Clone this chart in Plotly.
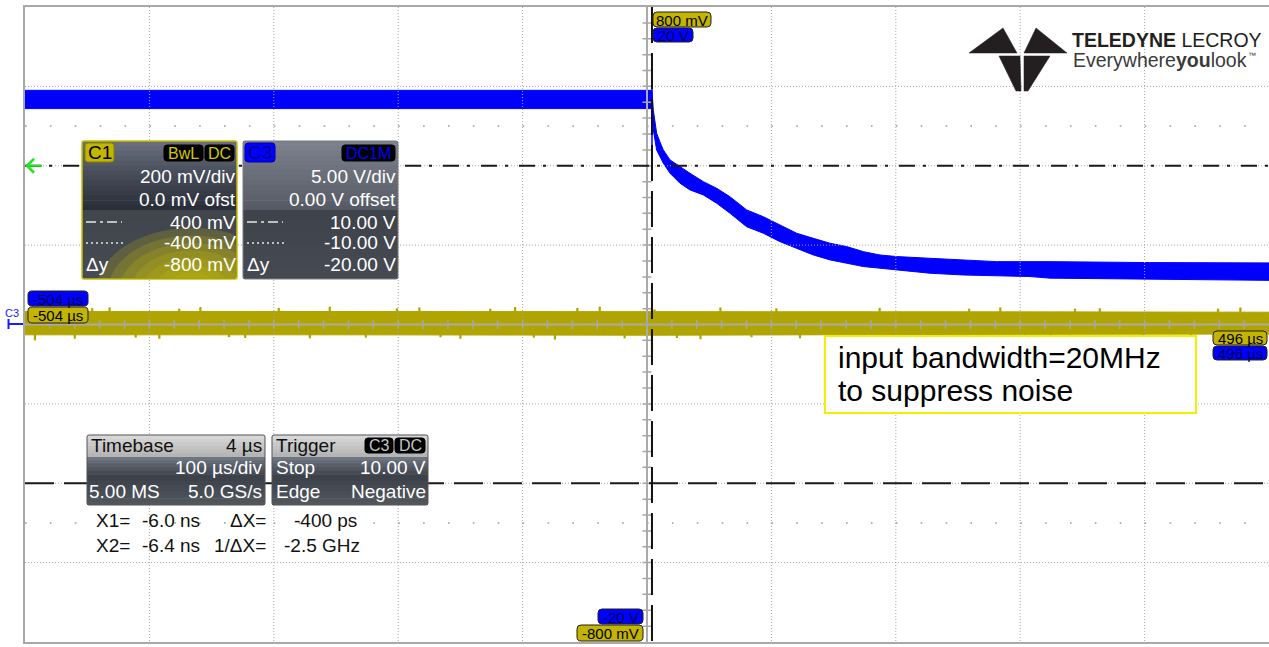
import math
import plotly.graph_objects as go

# C3 (blue, 5 V/div): envelope of the noisy trace. time in µs, volts
c3_time_us = [-504, -250, 0, 1.1, 3.75, 6.4, 9.1, 14.5, 22.5, 30.5, 41.3, 52.0, 62.7,
              76.1, 89.5, 102.9, 116.3, 129.7, 143.1, 156.5, 169.9, 183.3, 196.7,
              223.5, 250.3, 277.1, 303.9, 320.0, 400.0, 496.0]
c3_upper_v = [14.75, 14.75, 14.75, 13.5, 12.05, 11.5, 11.0, 10.37, 9.94, 9.53, 9.0, 8.58, 8.05,
              7.22, 6.79, 6.27, 5.75, 5.43, 5.12, 4.91, 4.59, 4.38, 4.28,
              4.17, 4.07, 3.96, 3.96, 3.96, 3.9, 3.88]
c3_lower_v = [13.6, 13.6, 13.6, 12.25, 10.99, 10.57, 10.16, 9.53, 8.90, 8.48, 8.16, 7.64, 7.01,
              6.16, 5.75, 5.22, 4.80, 4.38, 4.07, 3.86, 3.65, 3.55, 3.44,
              3.23, 3.12, 3.06, 3.02, 2.92, 2.85, 2.78]
c3_edge_time_us = [0, 0]
c3_edge_v = [15.6, 10.4]

# C1 (yellow, 200 mV/div): envelope body + visible noise spikes. time in µs, mV
c1_time_us = [-504, -250, 0, 250, 496]
c1_upper_mv = [33, 33, 33, 32, 31]
c1_lower_mv = [-26, -26, -27, -25, -24]
c1_spike_time_us = [-496, -484, -464, -450, -436, -415, -396, -380, -363, -340, -327, -300,
                    -275, -259, -230, -205, -187, -170, -154, -130, -110, -95, -78, -60,
                    -42, -22, 0, 2, 20, 39, 55, 80, 100, 119, 150, 183, 205, 232, 255,
                    280, 300, 320, 340, 360, 395, 433, 455, 473, 490]
c1_spike_mv = [-40, 45, -36, 41, 43, -33, -36, 40, 44, -32, -34, 42,
               -35, 45, -33, 41, 43, -32, -36, 40, 44, -33, -38, 42,
               45, -35, -70, 38, -34, -37, 43, -32, 41, -35, -33, 42, -31, -33, 40,
               43, -34, -37, 40, 41, -32, -35, 40, 43, -31]

# axis ranges / labels
time_range_us = [-504, 496]
c3_range_v = [-20, 20]
c1_range_mv = [-800, 800]
c3_cursor_v = [10, -10]

FONT = "Liberation Sans, Arial, sans-serif"
W, H = 1269, 647
PX_L, PX_R, PX_T, PX_B = 25, 1269, 7, 642

def fx(x): return x / W
def fy(y): return 1 - y / H
def P(x, y): return f"{fx(x):.5f},{fy(y):.5f}"
def t2x(t): return PX_L + (t - time_range_us[0]) / (time_range_us[1] - time_range_us[0]) * (PX_R - PX_L)
def v2y(v): return PX_T + (c3_range_v[1] - v) / (c3_range_v[1] - c3_range_v[0]) * (PX_B - PX_T)

shapes, ann = [], []

def line_px(x0, y0, x1, y1, color, width=1, dash='solid'):
    shapes.append(dict(type='line', xref='paper', yref='paper', x0=fx(x0), y0=fy(y0), x1=fx(x1), y1=fy(y1),
                       line=dict(color=color, width=width, dash=dash), layer='above'))

def rect_px(x0, y0, x1, y1, fill, lc=None, lw=0):
    shapes.append(dict(type='rect', xref='paper', yref='paper', x0=fx(x0), y0=fy(y1), x1=fx(x1), y1=fy(y0),
                       fillcolor=fill, line=dict(color=lc or fill, width=lw), layer='above'))

def path_px(path, fill='rgba(0,0,0,0)', lc='rgba(0,0,0,0)', lw=0):
    shapes.append(dict(type='path', xref='paper', yref='paper', path=path, fillcolor=fill,
                       line=dict(color=lc, width=lw), layer='above'))

def rrect(x0, y0, x1, y1, r, fill, lc, lw=1):
    p = (f"M{P(x0+r,y0)} L{P(x1-r,y0)} Q{P(x1,y0)} {P(x1,y0+r)} L{P(x1,y1-r)} Q{P(x1,y1)} {P(x1-r,y1)} "
         f"L{P(x0+r,y1)} Q{P(x0,y1)} {P(x0,y1-r)} L{P(x0,y0+r)} Q{P(x0,y0)} {P(x0+r,y0)} Z")
    path_px(p, fill, lc, lw)

def h2r(h):
    h = h.lstrip('#')
    return [int(h[i:i+2], 16) for i in (0, 2, 4)]

def interp(stops, f):
    for (f0, c0), (f1, c1) in zip(stops[:-1], stops[1:]):
        if f0 <= f <= f1:
            a, b = h2r(c0), h2r(c1)
            k = (f - f0) / (f1 - f0) if f1 > f0 else 0
            return 'rgb(%d,%d,%d)' % tuple(round(a[i] + (b[i] - a[i]) * k) for i in range(3))
    return stops[-1][1]

def vgrad(x0, y0, x1, y1, stops, n=14):
    h = (y1 - y0) / n
    for i in range(n):
        rect_px(x0, y0 + i * h, x1, min(y1, y0 + (i + 1) * h + 0.7), interp(stops, (i + 0.5) / n))

def text(x, y, s, size=19, color='white', xanchor='left', family=FONT):
    ann.append(dict(xref='paper', yref='paper', x=fx(x), y=fy(y), text=s, showarrow=False,
                    xanchor=xanchor, yanchor='middle', borderpad=0,
                    font=dict(family=family, size=size, color=color)))

# ---------------- traces ----------------
YTRACE = '#b0a500'
fig = go.Figure()
fig.add_trace(go.Scatter(x=c1_time_us + c1_time_us[::-1], y=c1_upper_mv + c1_lower_mv[::-1],
                         fill='toself', fillcolor=YTRACE, mode='lines',
                         line=dict(color=YTRACE, width=1), yaxis='y2', hoverinfo='skip'))
sx, sy = [], []
for t, v in zip(c1_spike_time_us, c1_spike_mv):
    sx += [t, t, None]
    sy += [0, v, None]
fig.add_trace(go.Scatter(x=sx, y=sy, mode='lines', line=dict(color=YTRACE, width=2.2),
                         yaxis='y2', hoverinfo='skip'))
fig.add_trace(go.Scatter(x=c3_time_us + c3_time_us[::-1], y=c3_upper_v + c3_lower_v[::-1],
                         fill='toself', fillcolor='#0000ff', mode='lines',
                         line=dict(color='#0000ff', width=1), hoverinfo='skip'))
fig.add_trace(go.Scatter(x=c3_edge_time_us, y=c3_edge_v, mode='lines',
                         line=dict(color='#0000ff', width=1.5), hoverinfo='skip'))

# ---------------- graticule ----------------
GRID = '#a6a6a6'
t = time_range_us[0] + 100
while t < time_range_us[1]:
    if abs(t - (-4)) > 1:
        line_px(t2x(t), PX_T, t2x(t), PX_B, GRID, 1, '1px,2px')
    t += 100
for v in [-15, -10, -5, 5, 10, 15]:
    line_px(PX_L, v2y(v), PX_R, v2y(v), GRID, 1, '1px,2px')
for v in [12.5, -12.5]:
    line_px(PX_L, v2y(v), PX_R, v2y(v), '#9c9c9c', 1.6, '1.6px,23.28px')
# centre lines with minor ticks
CX = t2x(-4)
line_px(CX, PX_T, CX, PX_B, '#ababab', 2)
line_px(PX_L, v2y(0), PX_R, v2y(0), '#ababab', 2)
segs = []
for k in range(-19, 20):
    y = v2y(k)
    segs.append(f"M{P(CX-4.5,y)} L{P(CX+4.5,y)}")
for k in range(1, 50):
    x = t2x(time_range_us[0] + 20 * k)
    segs.append(f"M{P(x,v2y(0)-4.5)} L{P(x,v2y(0)+4.5)}")
path_px(" ".join(segs), lc='#a6a6a6', lw=1.5)

# cursors
line_px(PX_L, v2y(c3_cursor_v[0]), PX_R, v2y(c3_cursor_v[0]), '#1a1a1a', 2, '16px,8px,3px,11px')
line_px(PX_L, v2y(c3_cursor_v[1]), PX_R, v2y(c3_cursor_v[1]), '#1a1a1a', 2, '29px,10px')
line_px(t2x(0), PX_T, t2x(0), PX_B, '#111111', 2, '36px,10px')
# green cursor arrow
line_px(27, v2y(10), 42, v2y(10), '#1ee61e', 2)
path_px(f"M{P(34,v2y(10)-7)} L{P(27,v2y(10))} L{P(34,v2y(10)+7)}", lc='#1ee61e', lw=2.5)

# ---------------- channel descriptor boxes ----------------
# C1
vgrad(82, 141, 237, 210, [(0, '#6c7180'), (0.5, '#464b58'), (1, '#282c36')])
vgrad(82, 210, 237, 279, [(0, '#40444c'), (1, '#474b52')], 6)
for s in [1.0, 0.88, 0.76, 0.64, 0.52, 0.40, 0.28]:
    pts = []
    for i in range(60):
        a = 2 * math.pi * i / 60
        x = min(max(192 + 95 * s * math.cos(a), 83), 236)
        y = min(max(290 - 62 * s * math.sin(a), 211), 278)
        pts.append(P(x, y))
    path_px("M" + " L".join(pts) + " Z", fill='rgba(198,190,8,0.21)')
rrect(82, 141, 237, 279, 2, 'rgba(0,0,0,0)', '#c8c000', 1.5)
# C3
vgrad(243, 141, 398, 210, [(0, '#7d828e'), (1, '#555a64')])
vgrad(243, 210, 398, 279, [(0, '#3e424a'), (1, '#464a52')], 6)
rrect(243, 141, 398, 279, 2, 'rgba(0,0,0,0)', '#7a7a7a', 1)

rrect(85, 143, 114, 162, 3, '#c4b600', '#8a8000', 1)
text(99.5, 152.5, 'C1', 19, '#000000', 'center')
rrect(164, 145, 203, 161, 3, '#000000', '#000000', 1)
text(183.5, 153, 'BwL', 16, '#d4c800', 'center')
rrect(205, 145, 234, 161, 3, '#000000', '#000000', 1)
text(219.5, 153, 'DC', 16, '#d4c800', 'center')
rrect(245, 143, 275, 162, 3, '#0000ff', '#0000aa', 1)
text(260, 152.5, 'C3', 19, '#000088', 'center')
rrect(342, 145, 395, 161, 3, '#000000', '#000000', 1)
text(368.5, 153, 'DC1M', 16, '#0000ff', 'center')

rows_y = [176.5, 199.5, 222, 242.5, 264.5]
c1_rows = ['200 mV/div', '0.0 mV ofst', '400 mV', '-400 mV', '-800 mV']
c3_rows = ['5.00 V/div', '0.00 V offset', '10.00 V', '-10.00 V', '-20.00 V']
for y, a, b in zip(rows_y, c1_rows, c3_rows):
    text(237, y, a, 19, '#ffffff', 'right')
    text(397, y, b, 19, '#ffffff', 'right')
for x0 in (86, 247):
    line_px(x0, 222, x0 + 36, 222, '#e8e8e8', 1.5, '10px,4px,3px,4px')
    line_px(x0, 243, x0 + 38, 243, '#e8e8e8', 1.5, '2px,3px')
    text(x0 - 1, 264.5, 'Δy', 19, '#ffffff', 'left')

# Timebase / Trigger boxes
for x0, x1 in ((87, 265), (272, 428)):
    vgrad(x0, 435, x1, 457, [(0, '#dadada'), (1, '#b2b2b2')], 6)
    vgrad(x0, 457, x1, 505, [(0, '#737985'), (0.4, '#3b4049'), (1, '#53585f')])
    rrect(x0, 435, x1, 505, 2, 'rgba(0,0,0,0)', '#555555', 1)
text(90, 445.5, 'Timebase', 19, '#111111', 'left')
text(263, 445.5, '4 µs', 19, '#111111', 'right')
text(263, 467, '100 µs/div', 19, '#ffffff', 'right')
text(88, 491.5, '5.00 MS', 19, '#ffffff', 'left')
text(263, 491.5, '5.0 GS/s', 19, '#ffffff', 'right')
text(275, 445.5, 'Trigger', 19, '#111111', 'left')
rrect(365, 438, 393, 453, 3, '#000000', '#000000', 1)
text(379, 445.5, 'C3', 16, '#c4c4c4', 'center')
rrect(395, 438, 425, 453, 3, '#000000', '#000000', 1)
text(410, 445.5, 'DC', 16, '#c4c4c4', 'center')
text(275, 467, 'Stop', 19, '#ffffff', 'left')
text(427, 467, '10.00 V', 19, '#ffffff', 'right')
text(275, 491.5, 'Edge', 19, '#ffffff', 'left')
text(427, 491.5, 'Negative', 19, '#ffffff', 'right')

# cursor readouts
text(95, 520, 'X1=', 19, '#111111', 'left')
text(141, 520, '-6.0 ns', 19, '#111111', 'left')
text(267, 520, 'ΔX=', 19, '#111111', 'right')
text(293, 520, '-400 ps', 19, '#111111', 'left')
text(95, 545, 'X2=', 19, '#111111', 'left')
text(141, 545, '-6.4 ns', 19, '#111111', 'left')
text(267, 545, '1/ΔX=', 19, '#111111', 'right')
text(283, 545, '-2.5 GHz', 19, '#111111', 'left')

# ---------------- reference / position markers ----------------
YEL, BLU = '#c2b400', '#0000ff'
def marker(x0, y0, x1, y1, fill, s, tc):
    rrect(x0, y0, x1, y1, 4, fill, '#202020', 1)
    text((x0 + x1) / 2, (y0 + y1) / 2 + 0.5, s, 15, tc, 'center')
marker(653, 12, 711, 27, YEL, '800 mV', '#000000')
marker(653, 28, 693, 42, BLU, '20 V', '#000050')
marker(598, 609, 643, 624, BLU, '-20 V', '#000050')
marker(577, 625, 643, 641, YEL, '-800 mV', '#000000')
marker(28, 291, 88, 306, BLU, '-504 µs', '#000050')
marker(28, 307, 88, 323, YEL, '-504 µs', '#000000')
marker(1213, 331, 1267, 345, YEL, '496 µs', '#000000')
marker(1213, 346, 1267, 360, BLU, '496 µs', '#000050')
text(4, 313, 'C3', 11, '#1a1aff', 'left')
line_px(8, 324, 23, 324, '#1a1aff', 2)
line_px(8.5, 319, 8.5, 329, '#1a1aff', 2)

# ---------------- note box ----------------
rect_px(825, 336, 1196, 413, '#ffffff', '#f2f000', 2)
text(837, 357, 'input bandwidth=20MHz', 30, '#000000', 'left')
text(837, 390, 'to suppress noise', 30, '#000000', 'left')

# ---------------- logo ----------------
LOGO = '#231f20'
for poly in ([(969, 53), (1003, 28), (1017, 53)],
             [(1024, 53), (1036, 28), (1067, 53)],
             [(999, 56), (1020, 56), (1021, 91), (1016, 91)],
             [(1024, 56), (1050, 56), (1028, 91), (1024, 91)]):
    path_px("M" + " L".join(P(x, y) for x, y in poly) + " Z", fill=LOGO, lc=LOGO, lw=0.5)
text(1071, 40, '<b>TELEDYNE</b> LECROY', 19.5, LOGO, 'left')
text(1072, 60, 'Everywhere<b>you</b>look', 19.5, '#3a3a3a', 'left')
text(1247, 56, '™', 8, '#3a3a3a', 'left')

fig.update_layout(
    width=W, height=H, margin=dict(l=0, r=0, t=0, b=0),
    paper_bgcolor='white', plot_bgcolor='white', showlegend=False,
    xaxis=dict(domain=[PX_L / W, 1], range=time_range_us, showgrid=False, zeroline=False,
               showticklabels=False, ticks='', showline=True, mirror=True,
               linecolor='#a8a8a8', linewidth=2),
    yaxis=dict(domain=[1 - PX_B / H, 1 - PX_T / H], range=c3_range_v, showgrid=False, zeroline=False,
               showticklabels=False, ticks='', showline=True, linecolor='#a8a8a8', linewidth=2),
    yaxis2=dict(overlaying='y', range=c1_range_mv, visible=False),
    shapes=shapes, annotations=ann,
)
fig.write_html("out.html", config={'displayModeBar': False},
               post_script="document.body.style.margin='0px';document.body.style.padding='0px';"
                           "document.body.style.overflow='hidden';")
